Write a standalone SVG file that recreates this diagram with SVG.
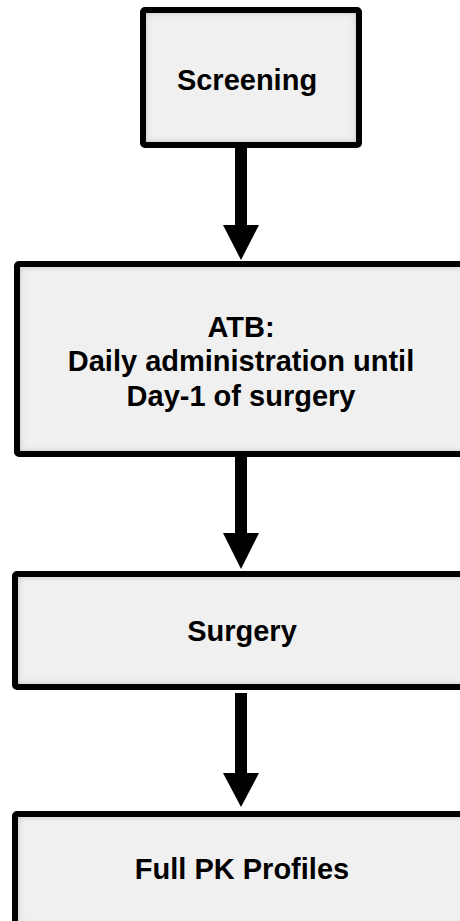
<svg xmlns="http://www.w3.org/2000/svg" width="460" height="921" viewBox="0 0 460 921">
<defs>
<filter id="inner" x="-5%" y="-5%" width="110%" height="110%">
<feFlood flood-color="#000" flood-opacity="0.8" result="f"/>
<feComposite in="f" in2="SourceAlpha" operator="out" result="o"/>
<feGaussianBlur in="o" stdDeviation="4" result="b"/>
<feComposite in="b" in2="SourceAlpha" operator="in" result="s"/>
<feMerge><feMergeNode in="SourceGraphic"/><feMergeNode in="s"/></feMerge>
</filter>
<style>
.fill{fill:#f0f0f0;filter:url(#inner);}
.frame{fill:none;stroke:#000;stroke-width:6;}
.lbl{font-family:"Liberation Sans",Arial,sans-serif;font-weight:bold;font-size:29px;fill:#000;text-anchor:middle;}
.arr{fill:#000;}
</style>
</defs>
<rect width="460" height="921" fill="#fff"/>
<g id="screening">
<rect class="fill" x="143" y="10" width="216" height="135"/>
<rect class="frame" x="143" y="10" width="216" height="135" rx="2"/>
<text class="lbl" x="247" y="90">Screening</text>
</g>
<g id="atb">
<rect class="fill" x="17" y="264" width="460" height="190"/>
<rect class="frame" x="17" y="264" width="460" height="190" rx="2"/>
<text class="lbl" x="241" y="337">ATB:</text>
<text class="lbl" x="241" y="371">Daily administration until</text>
<text class="lbl" x="241" y="406">Day-1 of surgery</text>
</g>
<g id="surgery">
<rect class="fill" x="15" y="574" width="460" height="113"/>
<rect class="frame" x="15" y="574" width="460" height="113" rx="2"/>
<text class="lbl" x="242" y="641">Surgery</text>
</g>
<g id="fullpk">
<rect class="fill" x="15" y="814" width="460" height="114"/>
<rect class="frame" x="15" y="814" width="460" height="114" rx="2"/>
<text class="lbl" x="242" y="879">Full PK Profiles</text>
</g>
<g id="connectors">
<polygon class="arr" points="235,148 247,148 247,225 259,225 241,260 223,225 235,225"/>
<polygon class="arr" points="235,457 247,457 247,533 259,533 241,569 223,533 235,533"/>
<polygon class="arr" points="235,693 247,693 247,773 259,773 241,807 223,773 235,773"/>
</g>
</svg>
